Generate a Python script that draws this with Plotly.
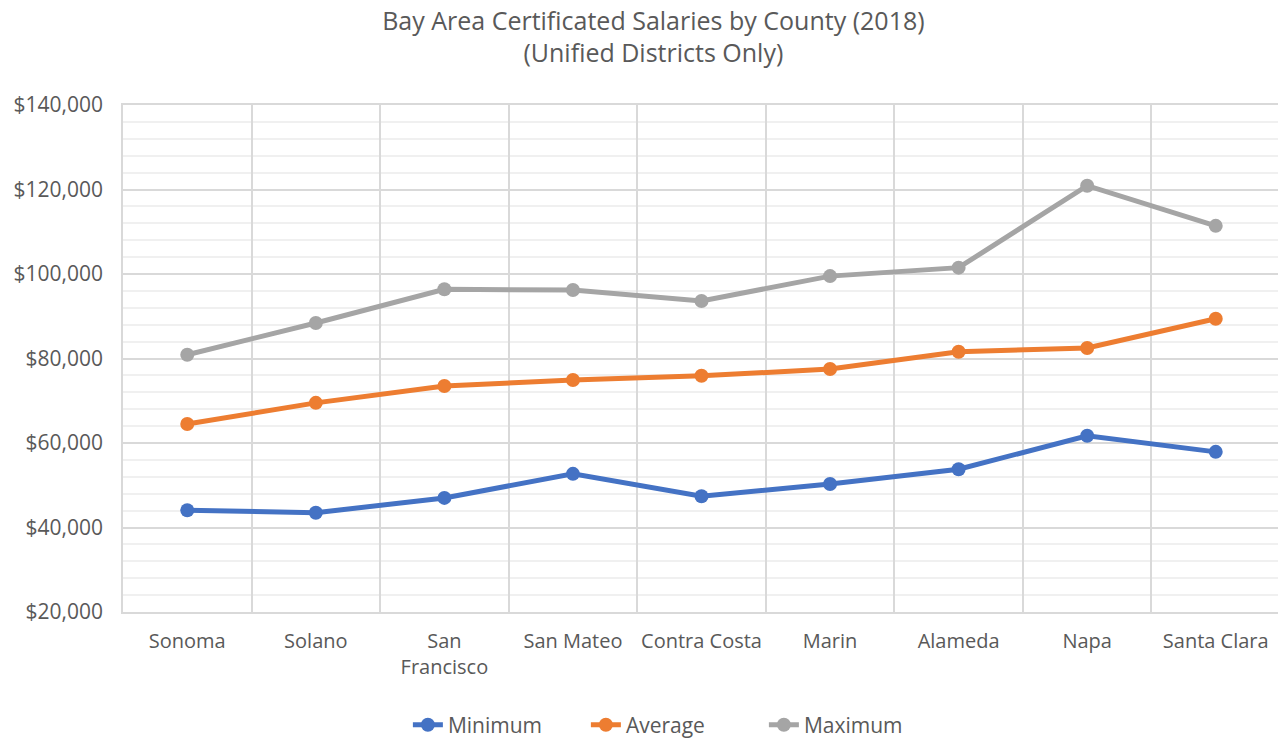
import plotly.graph_objects as go

counties = ["Sonoma", "Solano", "San<br>Francisco", "San Mateo", "Contra Costa",
            "Marin", "Alameda", "Napa", "Santa Clara"]
minimum = [44100, 43500, 47000, 52700, 47400, 50300, 53800, 61700, 57900]
average = [64500, 69500, 73500, 74900, 75900, 77500, 81600, 82500, 89400]
maximum = [80900, 88400, 96400, 96200, 93600, 99500, 101500, 120900, 111400]

series = [("Minimum", minimum, "#4472C4"),
          ("Average", average, "#ED7D31"),
          ("Maximum", maximum, "#A5A5A5")]

fig = go.Figure()
for name, vals, color in series:
    fig.add_trace(go.Scatter(
        x=counties, y=vals, name=name, mode="lines+markers",
        line=dict(color=color, width=5),
        marker=dict(color=color, size=14),
    ))

font = "Open Sans, sans-serif"
# the page body adds an 8px offset, so the figure is sized to end at the window edge
fig.update_layout(
    width=1278, height=732,
    margin=dict(l=115, r=6, t=97, b=128, autoexpand=False),
    paper_bgcolor="white", plot_bgcolor="white",
    font=dict(family=font, size=21, color="#595959"),
    title=dict(text="Bay Area Certificated Salaries by County (2018)<br>(Unified Districts Only)",
               x=0.505, xanchor="center", yref="container", y=0.97, yanchor="top",
               font=dict(family=font, size=25, color="#595959")),
    showlegend=True,
    legend=dict(orientation="h", x=0.477, xanchor="center",
                yref="paper", y=-0.223, yanchor="middle",
                entrywidth=133, entrywidthmode="pixels",
                font=dict(family=font, size=21, color="#595959"),
                traceorder="normal"),
    xaxis=dict(type="category", range=[-0.5, 8.5], tickson="boundaries",
               showgrid=True, gridcolor="#d9d9d9", gridwidth=1.5,
               showline=True, linecolor="#d9d9d9", linewidth=1.5, mirror=True,
               ticks="", ticklen=0, tickangle=0, ticklabelstandoff=10,
               tickfont=dict(family=font, size=20, color="#595959")),
    yaxis=dict(range=[20000, 140000], dtick=20000, tickprefix="$", tickformat=",",
               showgrid=True, gridcolor="#d9d9d9", gridwidth=1.5,
               showline=True, linecolor="#d9d9d9", linewidth=1.5, mirror=True,
               zeroline=False, ticks="", ticklabelstandoff=14,
               minor=dict(dtick=4000, showgrid=True, gridcolor="#f0f0f0", gridwidth=1.5),
               tickfont=dict(family=font, size=21, color="#595959")),
)

fig.write_html("out.html")
